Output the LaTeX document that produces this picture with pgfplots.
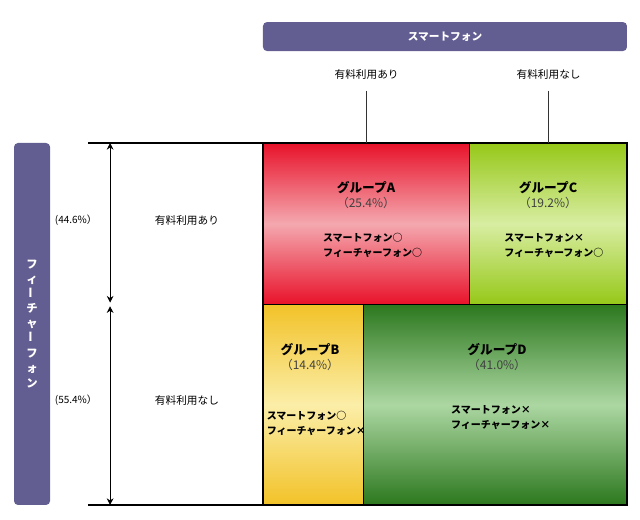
\documentclass[border=0pt]{standalone}
\usepackage{pgfplots}
\pgfplotsset{compat=1.18}
\usepackage{graphicx}
\usepackage{fontspec}
\setmainfont{Noto Sans CJK JP}
\usetikzlibrary{arrows.meta}
\definecolor{hdr}{RGB}{99,94,145}
\definecolor{aEdge}{RGB}{232,18,42}
\definecolor{aMid}{RGB}{244,168,175}
\definecolor{cEdge}{RGB}{150,200,24}
\definecolor{cMid}{RGB}{216,237,162}
\definecolor{bEdge}{RGB}{242,194,40}
\definecolor{bMid}{RGB}{251,238,168}
\definecolor{dEdge}{RGB}{44,120,30}
\definecolor{dMid}{RGB}{172,215,162}
\begin{document}
\begin{tikzpicture}
\useasboundingbox (0,0) rectangle (480pt,390pt);
\begin{axis}[
  at={(197.25pt,11.25pt)}, anchor=south west,
  scale only axis, width=273pt, height=271.5pt,
  xmin=0, xmax=100, ymin=0, ymax=100,
  hide axis, clip=false,
]
% Group A (25.4), Group C (19.2) in top row (44.6); Group B (14.4), Group D (41.0) in bottom row (55.4)
\addplot[draw=black, line width=0.8pt, top color=aEdge, bottom color=aEdge, middle color=aMid]
  coordinates {(0,55.4) (56.7,55.4) (56.7,100) (0,100) (0,55.4)};
\addplot[draw=black, line width=0.8pt, top color=cEdge, bottom color=cEdge, middle color=cMid]
  coordinates {(56.7,55.4) (100,55.4) (100,100) (56.7,100) (56.7,55.4)};
\addplot[draw=black, line width=0.8pt, top color=bEdge, bottom color=bEdge, middle color=bMid]
  coordinates {(0,0) (27.7,0) (27.7,55.4) (0,55.4) (0,0)};
\addplot[draw=black, line width=0.8pt, top color=dEdge, bottom color=dEdge, middle color=dMid]
  coordinates {(27.7,0) (100,0) (100,55.4) (27.7,55.4) (27.7,0)};

% cell texts
\node[font=\fontsize{9.5}{11}\selectfont\bfseries] at (axis cs:28.3,87.8) {グループA};
\node[font=\fontsize{9}{11}\selectfont, text=black!75] at (axis cs:28.3,83.4) {（25.4\%）};
\node[anchor=west, align=left, font=\fontsize{7.5}{11.25}\selectfont\bfseries] at (axis cs:15.2,71.7) {スマートフォン○\\フィーチャーフォン○};

\node[font=\fontsize{9.5}{11}\selectfont\bfseries] at (axis cs:78.3,87.8) {グループC};
\node[font=\fontsize{9}{11}\selectfont, text=black!75] at (axis cs:78.3,83.4) {（19.2\%）};
\node[anchor=west, align=left, font=\fontsize{7.5}{11.25}\selectfont\bfseries] at (axis cs:65.0,71.7) {スマートフォン×\\フィーチャーフォン○};

\node[font=\fontsize{9.5}{11}\selectfont\bfseries] at (axis cs:12.9,42.8) {グループB};
\node[font=\fontsize{9}{11}\selectfont, text=black!75] at (axis cs:12.9,38.7) {（14.4\%）};
\node[anchor=west, align=left, inner sep=1pt, font=\fontsize{7.5}{11.25}\selectfont\bfseries] at (axis cs:0.6,22.5) {スマートフォン○\\フィーチャーフォン×};

\node[font=\fontsize{9.5}{11}\selectfont\bfseries] at (axis cs:64.3,42.8) {グループD};
\node[font=\fontsize{9}{11}\selectfont, text=black!75] at (axis cs:64.3,38.7) {（41.0\%）};
\node[anchor=west, align=left, font=\fontsize{7.5}{11.25}\selectfont\bfseries] at (axis cs:50.4,24.2) {スマートフォン×\\フィーチャーフォン×};

% top header
\fill[hdr, rounded corners=3pt] (axis cs:0,125.4) rectangle (axis cs:100,133.4);
\node[text=white, font=\fontsize{8}{9}\selectfont\bfseries] at (axis cs:50,129.4) {スマートフォン};
\node[font=\fontsize{8}{10}\selectfont] at (axis cs:28.47,118.8) {有料利用あり};
\node[font=\fontsize{8}{10}\selectfont] at (axis cs:78.47,118.8) {有料利用なし};
\draw[black!80, line width=0.7pt] (axis cs:28.47,114.4) -- (axis cs:28.47,100);
\draw[black!80, line width=0.7pt] (axis cs:78.47,114.4) -- (axis cs:78.47,100);

% left header
\fill[hdr, rounded corners=3pt] (axis cs:-68.4,0) rectangle (axis cs:-58.5,100);
\node[text=white, align=center, font=\fontsize{8.5}{11.2}\selectfont\bfseries] at (axis cs:-63.45,50)
  {フ\\ィ\\\rotatebox{90}{ー}\\チ\\ャ\\\rotatebox{90}{ー}\\フ\\ォ\\ン};
\draw[black, line width=0.8pt] (axis cs:-48.1,100) -- (axis cs:0,100);
\draw[black, line width=0.8pt] (axis cs:-48.1,0) -- (axis cs:0,0);
\draw[black, line width=0.7pt, {Stealth[length=5pt,width=5pt]}-{Stealth[length=5pt,width=5pt]}] (axis cs:-42,100) -- (axis cs:-42,55.9);
\draw[black, line width=0.7pt, {Stealth[length=5pt,width=5pt]}-{Stealth[length=5pt,width=5pt]}] (axis cs:-42,54.9) -- (axis cs:-42,0);
\node[font=\fontsize{7.5}{9}\selectfont] at (axis cs:-51.4,78.7) {(44.6\%）};
\node[font=\fontsize{8}{10}\selectfont] at (axis cs:-20.9,78.7) {有料利用あり};
\node[font=\fontsize{7.5}{9}\selectfont] at (axis cs:-51.4,29.0) {(55.4\%）};
\node[font=\fontsize{8}{10}\selectfont] at (axis cs:-20.9,29.0) {有料利用なし};
\end{axis}
\end{tikzpicture}
\end{document}
